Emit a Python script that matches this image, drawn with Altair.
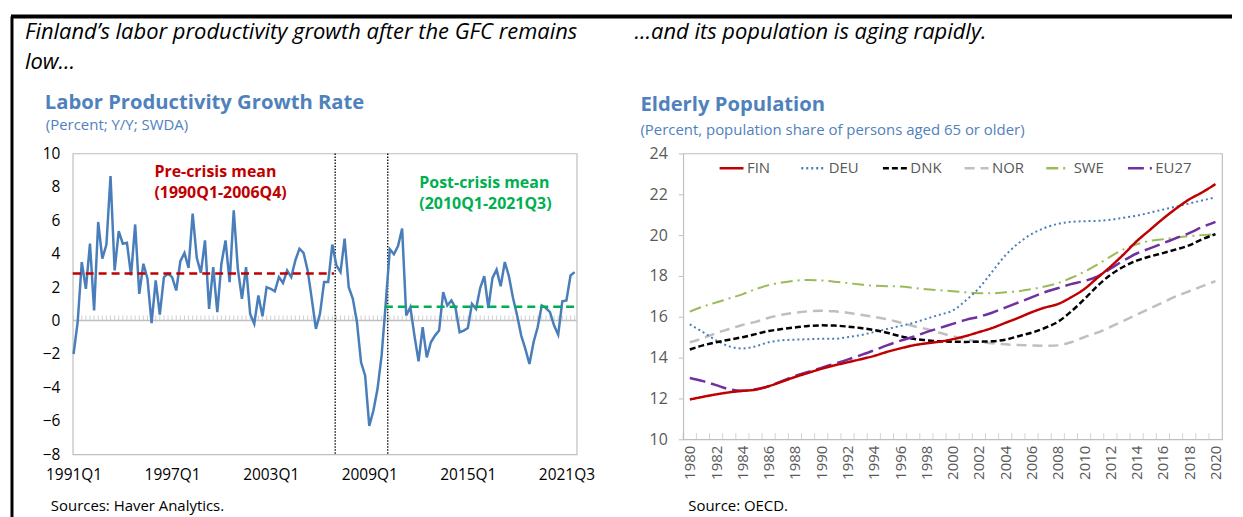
import altair as alt
import pandas as pd

FONT = "Open Sans"
HEAD_FONT = "Open Sans"

# ---------------- Left panel data: labor productivity growth, 1991Q1-2021Q3 ----------------
growth = [
    -2.0, -0.1, 3.5, 1.9, 4.6, 0.6, 5.9, 3.7, 4.55, 8.65,
    3.0, 5.35, 4.6, 4.65, 2.7, 5.75, 1.6, 3.4, 2.5, -0.15,
    2.4, 0.35, 2.6, 2.8, 2.6, 1.8, 3.55, 4.05, 3.15, 6.4,
    3.75, 2.85, 4.8, 0.7, 3.2, 0.5, 3.4, 4.8, 2.3, 6.6,
    3.1, 1.3, 3.2, 0.4, -0.2, 1.5, 0.25, 2.0, 1.9, 1.75,
    2.6, 2.25, 3.0, 2.6, 3.6, 4.3, 4.05, 3.0, 1.3, -0.5,
    0.4, 2.3, 2.3, 4.55, 3.3, 2.9, 4.9, 2.0, 1.3, -0.1,
    -2.5, -3.3, -6.3, -5.4, -4.1, -2.1, 1.0, 4.27, 3.97, 4.46,
    5.5, 0.3, 0.8, -0.9, -2.44, -0.4, -2.2, -1.3, -0.9, -0.6,
    1.7, 0.9, 1.2, 0.75, -0.7, -0.6, -0.45, 1.0, 0.7, 1.95,
    2.65, 0.75, 2.55, 3.05, 2.05, 3.5, 2.65, 1.35, 0.3, -0.9,
    -1.7, -2.6, -1.3, -0.4, 0.9, 0.75, 0.5, -0.3, -0.85, 1.15,
    1.2, 2.7, 2.9,
]
quarter_tick_index = [0, 24, 48, 72, 96, 120]
quarter_tick_labels = ["1991Q1", "1997Q1", "2003Q1", "2009Q1", "2015Q1", "2021Q3"]
left_y_ticks = [-8, -6, -4, -2, 0, 2, 4, 6, 8, 10]
pre_crisis_mean = 2.82
post_crisis_mean = 0.83
pre_crisis_span = [-0.2, 63.4]
post_crisis_span = [75.8, 122.5]
crisis_markers = [63.7, 76.5]
pre_text = ["Pre-crisis mean", "(1990Q1-2006Q4)"]
post_text = ["Post-crisis mean", "(2010Q1-2021Q3)"]

# ---------------- Right panel data: population share aged 65+, 1980-2020 ----------------
years = list(range(1980, 2021))
fin = [11.95, 12.08, 12.2, 12.3, 12.37, 12.43, 12.6, 12.82, 13.05, 13.25,
       13.45, 13.62, 13.77, 13.92, 14.08, 14.28, 14.45, 14.6, 14.7, 14.78,
       14.9, 15.06, 15.25, 15.45, 15.7, 15.95, 16.22, 16.45, 16.62, 16.95,
       17.35, 17.9, 18.45, 19.05, 19.7, 20.25, 20.8, 21.3, 21.75, 22.1, 22.5]
deu = [15.63, 15.25, 14.85, 14.55, 14.45, 14.55, 14.75, 14.85, 14.88, 14.9,
       14.92, 14.92, 15.0, 15.1, 15.25, 15.4, 15.55, 15.7, 15.9, 16.1,
       16.3, 16.8, 17.4, 18.2, 19.0, 19.6, 20.05, 20.35, 20.55, 20.65,
       20.68, 20.7, 20.75, 20.85, 20.95, 21.1, 21.25, 21.4, 21.55, 21.7, 21.85]
dnk = [14.4, 14.6, 14.75, 14.88, 15.0, 15.15, 15.3, 15.4, 15.48, 15.55,
       15.58, 15.57, 15.52, 15.45, 15.35, 15.22, 15.05, 14.92, 14.85, 14.8,
       14.78, 14.77, 14.78, 14.8, 14.88, 15.05, 15.22, 15.45, 15.75, 16.25,
       16.85, 17.5, 18.05, 18.45, 18.75, 18.95, 19.12, 19.3, 19.5, 19.8, 20.05]
nor = [14.75, 14.95, 15.2, 15.4, 15.6, 15.75, 15.95, 16.1, 16.2, 16.27,
       16.3, 16.27, 16.2, 16.1, 16.0, 15.88, 15.72, 15.55, 15.4, 15.22,
       15.05, 14.9, 14.78, 14.7, 14.65, 14.62, 14.6, 14.58, 14.6, 14.75,
       15.0, 15.22, 15.5, 15.8, 16.1, 16.4, 16.7, 17.0, 17.25, 17.5, 17.75]
swe = [16.25, 16.5, 16.7, 16.9, 17.1, 17.35, 17.55, 17.68, 17.77, 17.8,
       17.78, 17.72, 17.65, 17.58, 17.52, 17.5, 17.48, 17.42, 17.35, 17.3,
       17.25, 17.2, 17.15, 17.15, 17.2, 17.25, 17.35, 17.48, 17.65, 17.9,
       18.2, 18.55, 18.95, 19.3, 19.55, 19.72, 19.8, 19.88, 19.95, 20.0, 20.05]
eu27 = [13.0, 12.85, 12.65, 12.45, 12.38, 12.45, 12.6, 12.85, 13.1, 13.3,
        13.5, 13.7, 13.9, 14.12, 14.35, 14.6, 14.82, 15.02, 15.25, 15.45,
        15.65, 15.85, 16.0, 16.2, 16.45, 16.7, 16.95, 17.2, 17.4, 17.6,
        17.75, 17.97, 18.35, 18.75, 19.1, 19.35, 19.6, 19.85, 20.1, 20.4, 20.65]
series_names = ["FIN", "DEU", "DNK", "NOR", "SWE", "EU27"]
series_values = [fin, deu, dnk, nor, swe, eu27]
right_y_ticks = [10, 12, 14, 16, 18, 20, 22, 24]
right_x_labels = [y for y in years if y % 2 == 0]

# ---------------- styles ----------------
series_colors = ["#C00000", "#4A7EBB", "#000000", "#BFBFBF", "#9BBB59", "#7030A0"]
series_dashes = [[1, 0], [2, 3], [6, 3], [10, 6], [12, 5, 2, 5], [16, 6]]
series_widths = [2.5, 2.0, 2.5, 2.5, 2.0, 2.5]
draw_order = ["NOR", "SWE", "DEU", "DNK", "EU27", "FIN"]

W1, H1 = 506, 302
W2, H2 = 541, 287
GAP = 107


def txt(s, x, y, size, color, weight="normal", style="normal", font=FONT):
    return alt.Chart(pd.DataFrame({"t": [s]})).mark_text(
        align="left", baseline="middle", fontSize=size, color=color,
        fontWeight=weight, fontStyle=style, font=font
    ).encode(x=alt.value(x), y=alt.value(y), text="t:N")


# ---------------- Left panel ----------------
df_lp = pd.DataFrame({"q": list(range(len(growth))), "v": growth})
df_zero_ticks = pd.DataFrame({"q": list(range(len(growth))), "v": [0] * len(growth)})
xs1 = alt.Scale(domain=[-0.2, 122.5], nice=False, zero=False)
ys1 = alt.Scale(domain=[-8, 10], nice=False, zero=False)
label_expr = "[" + ",".join("'%s'" % l for l in quarter_tick_labels) + "][round(datum.value/24)]"
x_axis1 = alt.Axis(values=quarter_tick_index, labelExpr=label_expr, domain=False, ticks=False,
                   grid=False, labelFontSize=15.5, labelColor="#000000", labelPadding=13,
                   labelFont=FONT, labelFlush=False, labelOverlap=False, title=None)
y_axis1 = alt.Axis(values=left_y_ticks, domain=False, ticks=False, grid=False, labelFontSize=15.5,
                   labelColor="#000000", labelPadding=13, labelFont=FONT, labelOverlap=False,
                   labelFlush=False, labelBound=False, title=None)

X1 = alt.X("q:Q", scale=xs1, axis=x_axis1)
Y1 = alt.Y("v:Q", scale=ys1, axis=y_axis1)

zero_rule = alt.Chart(pd.DataFrame({"v": [0]})).mark_rule(color="#BFBFBF", strokeWidth=1.5).encode(y=Y1)
zero_ticks = alt.Chart(df_zero_ticks).mark_tick(orient="vertical", size=5, thickness=1, color="#BFBFBF",
                                                yOffset=-2.5).encode(x=X1, y=Y1)
markers = alt.Chart(pd.DataFrame({"q": crisis_markers})).mark_rule(
    color="#000000", strokeWidth=1.3, strokeDash=[1.5, 1.5]).encode(x=X1)
lp_line = alt.Chart(df_lp).mark_line(color="#4A7EBB", strokeWidth=2.5).encode(x=X1, y=Y1)
pre_rule = alt.Chart(pd.DataFrame({"q": [pre_crisis_span[0]], "q2": [pre_crisis_span[1]], "v": [pre_crisis_mean]})
                     ).mark_rule(color="#C00000", strokeWidth=2.5, strokeDash=[8, 5]).encode(x=X1, x2="q2:Q", y=Y1)
post_rule = alt.Chart(pd.DataFrame({"q": [post_crisis_span[0]], "q2": [post_crisis_span[1]], "v": [post_crisis_mean]})
                      ).mark_rule(color="#00B050", strokeWidth=2.5, strokeDash=[8, 5]).encode(x=X1, x2="q2:Q", y=Y1)

left_border = alt.Chart(pd.DataFrame({"a": [0]})).mark_rule(color="#000000", strokeWidth=3).encode(
    x=alt.value(-61), y=alt.value(-137.5), y2=alt.value(366))
top_border = alt.Chart(pd.DataFrame({"a": [0]})).mark_rule(color="#000000", strokeWidth=4).encode(
    x=alt.value(-62), x2=alt.value(1164), y=alt.value(-137.5))

left = alt.layer(
    zero_rule, zero_ticks, markers, lp_line, pre_rule, post_rule,
    txt(pre_text[0], 82, 18.5, 16, "#C00000", "bold"),
    txt(pre_text[1], 82, 40, 16, "#C00000", "bold"),
    txt(post_text[0], 348, 29.5, 16, "#00B050", "bold"),
    txt(post_text[1], 348, 51, 16, "#00B050", "bold"),
    txt("Finland\u2019s labor productivity growth after the GFC remains", -48, -121.5, 22, "#000000",
        style="italic", font=HEAD_FONT),
    txt("low\u2026", -48, -92, 22, "#000000", style="italic", font=HEAD_FONT),
    txt("Labor Productivity Growth Rate", -28, -51, 20.3, "#4F81BD", "bold"),
    txt("(Percent; Y/Y; SWDA)", -27, -29, 15, "#4F81BD"),
    txt("Sources: Haver Analytics.", -22, 354, 15, "#000000"),
    left_border, top_border,
).properties(width=W1, height=H1)

# ---------------- Right panel ----------------
rows = []
for name, vals in zip(series_names, series_values):
    for yr, v in zip(years, vals):
        rows.append({"series": name, "year": yr, "share": v})
df_pop = pd.DataFrame(rows)

xs2 = alt.Scale(domain=[1979.5, 2020.5], nice=False, zero=False)
ys2 = alt.Scale(domain=[10, 24], nice=False, zero=False)
x_axis2 = alt.Axis(values=right_x_labels, format="d", labelAngle=270, domain=False, ticks=False, grid=False,
                   labelFontSize=15, labelColor="#595959", labelPadding=6, labelFont=FONT,
                   labelFlush=False, labelOverlap=False, title=None)
y_axis2 = alt.Axis(values=right_y_ticks, domain=False, ticks=True, tickSize=5, tickColor="#BFBFBF",
                   grid=False, labelFontSize=16, labelColor="#595959", labelPadding=11,
                   labelFont=FONT, labelOverlap=False, labelFlush=False, title=None)
# legend is placed relative to the whole concatenated view (origin = left plot's top-left)
legend = alt.Legend(orient="none", legendX=W1 + GAP + 35, legendY=1, direction="horizontal", columns=6,
                    title=None, symbolType="stroke", symbolSize=576, symbolStrokeWidth=2.5,
                    labelFontSize=15, labelColor="#595959", labelFont=FONT, labelOffset=2,
                    columnPadding=12, gridAlign="all")
color_scale = alt.Scale(domain=series_names, range=series_colors)
dash_scale = alt.Scale(domain=series_names, range=series_dashes)

X2 = alt.X("year:Q", scale=xs2, axis=x_axis2)
Y2 = alt.Y("share:Q", scale=ys2, axis=y_axis2)

year_ticks = alt.Chart(pd.DataFrame({"year": years})).transform_calculate(
    b="datum.year - 0.5").mark_tick(orient="vertical", size=6, thickness=1, color="#BFBFBF").encode(
    x=alt.X("b:Q", scale=xs2, axis=x_axis2), y=alt.value(H2 - 3))

line_layers = []
for name in draw_order:
    w = series_widths[series_names.index(name)]
    line_layers.append(
        alt.Chart(df_pop).transform_filter(alt.datum.series == name).mark_line(
            interpolate="monotone", strokeWidth=w).encode(
            x=X2, y=Y2,
            color=alt.Color("series:N", scale=color_scale, legend=legend),
            strokeDash=alt.StrokeDash("series:N", scale=dash_scale, legend=legend),
        )
    )

right = alt.layer(
    year_ticks, *line_layers,
    txt("\u2026and its population is aging rapidly.", -49, -121.5, 22, "#000000", style="italic", font=HEAD_FONT),
    txt("Elderly Population", -43, -49, 20.3, "#4F81BD", "bold"),
    txt("(Percent, population share of persons aged 65 or older)", -43, -24, 15, "#4F81BD"),
    txt("Source: OECD.", 5, 354, 15, "#000000"),
).properties(width=W2, height=H2)

chart = alt.hconcat(left, right, spacing=GAP, bounds="flush").configure_view(
    stroke="#BFBFBF", strokeWidth=1.2
).properties(padding={"left": 0, "top": 4, "right": 0, "bottom": 0}, background="white")

chart.save("out.html", embed_options={"renderer": "svg", "actions": False})
